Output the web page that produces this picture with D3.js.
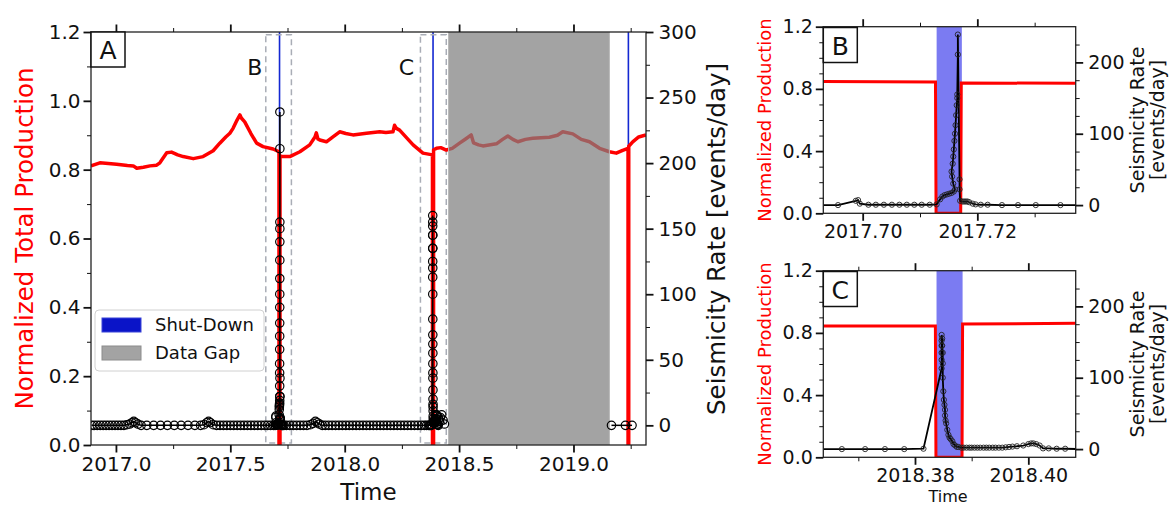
<!DOCTYPE html>
<html>
<head>
<meta charset="utf-8">
<script src="https://cdn.jsdelivr.net/npm/d3@7"></script>
<style>
  body { margin: 0; background: #fff; }
  svg { font-family: "DejaVu Sans", sans-serif; }
</style>
</head>
<body>
<div id="chart"></div>
<script>
/* CONSTANTS AND GLOBALS */
const width = 1173, height = 508;
const FONT = "DejaVu Sans";

/* DATA */
// normalized total production, [year, value]
const productionA = [
  [2016.891,0.811],[2016.930,0.820],[2017.003,0.816],[2017.050,0.812],[2017.076,0.811],[2017.091,0.804],
  [2017.120,0.807],[2017.149,0.811],[2017.178,0.813],[2017.192,0.820],[2017.222,0.849],[2017.243,0.851],
  [2017.270,0.843],[2017.294,0.838],[2017.338,0.832],[2017.381,0.838],[2017.425,0.855],[2017.454,0.877],
  [2017.480,0.895],[2017.498,0.906],[2017.512,0.920],[2017.530,0.945],[2017.542,0.959],[2017.548,0.950],
  [2017.563,0.939],[2017.590,0.905],[2017.615,0.877],[2017.643,0.867],[2017.687,0.860],[2017.7127,0.852],
  [2017.7128,0],[2017.7171,0],[2017.7172,0.840],[2017.731,0.838],[2017.760,0.838],[2017.804,0.852],
  [2017.847,0.872],[2017.870,0.895],[2017.876,0.907],[2017.883,0.889],[2017.891,0.886],[2017.920,0.881],
  [2017.950,0.896],[2017.978,0.910],[2018.005,0.905],[2018.036,0.901],[2018.095,0.906],[2018.153,0.910],
  [2018.180,0.908],[2018.211,0.910],[2018.218,0.929],[2018.226,0.920],[2018.240,0.915],[2018.270,0.893],
  [2018.299,0.872],[2018.342,0.848],[2018.3836,0.843],[2018.3837,0],[2018.3883,0],[2018.3884,0.858],
  [2018.401,0.862],[2018.420,0.864],[2018.444,0.857],[2018.470,0.862],[2018.502,0.877],[2018.530,0.890],
  [2018.553,0.901],[2018.563,0.878],[2018.585,0.872],[2018.604,0.869],[2018.663,0.875],[2018.690,0.888],
  [2018.713,0.898],[2018.735,0.888],[2018.757,0.881],[2018.790,0.888],[2018.822,0.891],[2018.895,0.894],
  [2018.930,0.900],[2018.953,0.910],[2018.997,0.904],[2019.034,0.888],[2019.070,0.881],[2019.114,0.862],
  [2019.157,0.852],[2019.187,0.848],[2019.215,0.856],[2019.2385,0.862],[2019.2386,0],[2019.2415,0],
  [2019.2416,0.868],[2019.259,0.881],[2019.285,0.895],[2019.317,0.901]
];
const productionB = [[2017.690,0.848],[2017.7127,0.845],[2017.7128,0],[2017.7171,0],[2017.7172,0.838],[2017.740,0.836]];
const productionC = [[2018.360,0.845],[2018.3836,0.845],[2018.3837,0],[2018.3883,0],[2018.3884,0.857],[2018.410,0.862]];

const shutdowns = [[2017.7129,2017.7173],[2018.3838,2018.3884],[2019.2385,2019.2415]];
const dataGap = [2018.454, 2019.157];
const zoomBoxes = [
  { label: "B", x0: 2017.655, x1: 2017.767, lx: 2017.607 },
  { label: "C", x0: 2018.331, x1: 2018.444, lx: 2018.270 }
];

// seismicity rate [events/day], [year, rate]
const seisBefore = [
  [2016.893,0],[2016.905,0],[2016.918,0],[2016.931,0],[2016.944,0],[2016.957,0],[2016.970,0],[2016.983,0],
  [2016.996,0],[2017.009,0],[2017.022,0],[2017.035,0],[2017.048,0.5],[2017.060,1],[2017.070,2],[2017.078,3],
  [2017.086,2],[2017.096,1],[2017.110,0],[2017.135,0],[2017.165,0],[2017.195,0],[2017.225,0],[2017.255,0],
  [2017.285,0],[2017.315,0],[2017.345,0],[2017.370,0],[2017.385,0.5],[2017.397,2],[2017.405,3],[2017.413,2],
  [2017.425,0.5],[2017.440,0],[2017.455,0],[2017.470,0],[2017.485,0],[2017.500,0],[2017.515,0],[2017.530,0],
  [2017.545,0],[2017.560,0],[2017.575,0],[2017.590,0],[2017.605,0],[2017.620,0],[2017.635,0],[2017.650,0],
  [2017.663,0],[2017.676,0],[2017.689,0]
];
const seisEventB = [
  [2017.6957,0],[2017.6988,6],[2017.6992,7],[2017.6995,2],[2017.7010,0.5],[2017.7023,0.5],[2017.7037,0.5],
  [2017.7051,0.5],[2017.7064,0.5],[2017.7077,0.5],[2017.7090,0.5],[2017.7103,0.5],[2017.7117,0.5],[2017.7129,1],
  [2017.7135,8],[2017.7139,12],[2017.7143,14],[2017.7147,15],[2017.7151,16],[2017.7155,17],[2017.7159,19],
  [2017.7161,22],[2017.7158,30],[2017.7156,40],[2017.7155,47],[2017.7157,58],[2017.7158,68],[2017.7159,78],
  [2017.7160,90],[2017.7161,100],[2017.7162,112],[2017.7163,126],[2017.7164,140],[2017.7165,150],[2017.7165,155],
  [2017.7166,211],[2017.7166,239],[2017.7169,36],[2017.7169,22],[2017.7170,6],[2017.7174,5],[2017.7177,5],
  [2017.7180,5],[2017.7183,5],[2017.7186,4],[2017.7192,2],[2017.7197,1],[2017.7206,0.5],[2017.7218,0.5],
  [2017.7243,0],[2017.7271,0],[2017.7302,0],[2017.7345,0]
];
const seisBetween = [
  [2017.745,0],[2017.760,0],[2017.775,0],[2017.790,0],[2017.805,0],[2017.820,0],[2017.835,0],[2017.850,0.5],
  [2017.862,1.5],[2017.872,3],[2017.880,2],[2017.890,1],[2017.902,0],[2017.915,0],[2017.930,0],[2017.945,0],
  [2017.960,0],[2017.975,0],[2017.990,0],[2018.005,0],[2018.020,0],[2018.035,0],[2018.050,0],[2018.065,0],
  [2018.080,0],[2018.095,0],[2018.110,0],[2018.125,0],[2018.140,0],[2018.155,0],[2018.170,0],[2018.185,0],
  [2018.200,0],[2018.215,0],[2018.230,0],[2018.245,0],[2018.260,0],[2018.275,0],[2018.290,0],[2018.305,0],
  [2018.320,0],[2018.335,0],[2018.348,0],[2018.358,0]
];
const seisEventC = [
  [2018.3671,0],[2018.3712,0],[2018.3747,0],[2018.3781,0],[2018.3815,0.5],
  [2018.3847,113],[2018.3847,125],[2018.3847,135],[2018.3847,145],[2018.3847,152],[2018.3847,160],
  [2018.3848,155],[2018.3848,145],[2018.3849,135],[2018.3849,120],[2018.3849,100],[2018.3850,81],
  [2018.3851,69],[2018.3852,62],[2018.3853,55],[2018.3853,47],[2018.3854,40],[2018.3855,36],[2018.3857,27],
  [2018.3859,20],[2018.3861,16],[2018.3863,14],[2018.3866,11],[2018.3868,7],[2018.3871,5],[2018.3874,3],
  [2018.3877,3],[2018.3882,2],[2018.3886,2],[2018.3891,2],[2018.3896,2],[2018.3900,2],[2018.3905,2],
  [2018.3910,2],[2018.3915,2],[2018.3921,2],[2018.3926,2],[2018.3931,2],[2018.3937,2],[2018.3942,2],
  [2018.3948,2],[2018.3954,2],[2018.3960,2.5],[2018.3966,3],[2018.3972,3.5],[2018.3980,4],[2018.3991,5],
  [2018.4000,7],[2018.4005,8],[2018.4009,8],[2018.4014,7],[2018.4020,5],[2018.4026,1],[2018.4036,1],
  [2018.4050,0.5],[2018.4065,0.5],[2018.4090,0]
];
const seisAfter = [[2018.412,3],[2018.418,6],[2018.424,8],[2018.430,4],[2018.436,1]];
const seisPostGap = [[2019.166,0],[2019.227,0],[2019.256,0]];

// ticks
const xMajorA = [2017.0, 2017.5, 2018.0, 2018.5, 2019.0];
const xMinorA = [2017.25, 2017.75, 2018.25, 2018.75, 2019.25];
const prodMajorA = [0, 0.2, 0.4, 0.6, 0.8, 1.0, 1.2];
const prodMinorA = [0.1, 0.3, 0.5, 0.7, 0.9, 1.1];
const rateMajorA = [0, 50, 100, 150, 200, 250, 300];
const rateMinorA = [25, 75, 125, 175, 225, 275];
const xMajorB = [2017.70, 2017.72], xMinorB = [2017.71, 2017.73];
const xMajorC = [2018.38, 2018.40], xMinorC = [2018.37, 2018.39];
const prodMajorZ = [0, 0.4, 0.8, 1.2];
const prodMinorZ = [0.1, 0.2, 0.3, 0.5, 0.6, 0.7, 0.9, 1.0, 1.1];
const rateMajorZ = [0, 100, 200];
const rateMinorZ = [25, 50, 75, 125, 150, 175, 225];

const seisMain = [].concat(seisBefore, seisEventB, seisBetween, seisEventC, seisAfter);

/* SVG */
const svg = d3.select("#chart").append("svg")
  .attr("width", width).attr("height", height)
  .attr("font-family", FONT);

// draws one axis side: major ticks (with labels) + minor ticks
function tickAxis(g, axisFn, scale, transform, major, minor, fmt, fs, pad) {
  const a = g.append("g").attr("transform", transform)
    .call(axisFn(scale).tickValues(major).tickSize(7.5).tickPadding(pad || 4)
      .tickFormat(fmt || (() => "")));
  a.attr("font-family", FONT).attr("font-size", fs);
  a.select(".domain").remove();
  a.selectAll(".tick line").attr("stroke", "#111").attr("stroke-width", 1.8);
  a.selectAll(".tick text").attr("fill", "#111");
  const m = g.append("g").attr("transform", transform)
    .call(axisFn(scale).tickValues(minor).tickSize(4).tickFormat(() => ""));
  m.select(".domain").remove();
  m.selectAll(".tick line").attr("stroke", "#111").attr("stroke-width", 1);
}

function makeClip(id, x, y) {
  svg.append("clipPath").attr("id", id).append("rect")
    .attr("x", x.range()[0]).attr("y", y.range()[1])
    .attr("width", x.range()[1] - x.range()[0])
    .attr("height", y.range()[0] - y.range()[1]);
}

function frame(g, x, y) {
  g.append("rect")
    .attr("x", x.range()[0]).attr("y", y.range()[1])
    .attr("width", x.range()[1] - x.range()[0])
    .attr("height", y.range()[0] - y.range()[1])
    .attr("fill", "none").attr("stroke", "#222").attr("stroke-width", 1.3);
}

function letterBox(g, x0, y0, txt) {
  g.append("rect").attr("x", x0).attr("y", y0).attr("width", 34).attr("height", 35)
    .attr("fill", "#fff").attr("stroke", "#111").attr("stroke-width", 1.5);
  g.append("text").attr("x", x0 + 17).attr("y", y0 + 27).attr("text-anchor", "middle")
    .attr("font-size", 25).attr("fill", "#111").text(txt);
}

/* PANEL A */
const xA = d3.scaleLinear().domain([2016.891, 2019.317]).range([91, 646]);
const yA = d3.scaleLinear().domain([0, 1.2]).range([445, 32]);
const rA = d3.scaleLinear().domain([-15, 300]).range([445, 32]);
makeClip("clipA", xA, yA);
const gA = svg.append("g");
const plotA = gA.append("g").attr("clip-path", "url(#clipA)");

// shut-down spans (very thin here)
plotA.selectAll("rect.shut").data(shutdowns).join("rect").attr("class", "shut")
  .attr("x", d => (xA(d[0]) + xA(d[1])) / 2 - 0.8)
  .attr("width", 1.6)
  .attr("y", yA(1.2)).attr("height", yA(0) - yA(1.2))
  .attr("fill", "#1428d2");

// dashed boxes for zoom windows
plotA.selectAll("rect.zoombox").data(zoomBoxes).join("rect").attr("class", "zoombox")
  .attr("x", d => xA(d.x0)).attr("width", d => xA(d.x1) - xA(d.x0))
  .attr("y", yA(1.192)).attr("height", yA(0.006) - yA(1.192))
  .attr("fill", "none").attr("stroke", "#a9adb6").attr("stroke-width", 1.5)
  .attr("stroke-dasharray", "6,4");

const lineA = d3.line().x(d => xA(d[0])).y(d => yA(d[1]));
plotA.append("path").datum(productionA).attr("d", lineA)
  .attr("fill", "none").attr("stroke", "#ff0000").attr("stroke-width", 3.5)
  .attr("stroke-linejoin", "round");

// data gap over the line
plotA.append("rect")
  .attr("x", xA(dataGap[0])).attr("width", xA(dataGap[1]) - xA(dataGap[0]))
  .attr("y", yA(1.2)).attr("height", yA(0) - yA(1.2))
  .attr("fill", "#808080").attr("fill-opacity", 0.72)
  .attr("stroke", "#b8b8b8").attr("stroke-width", 1);

const seisLineA = d3.line().x(d => xA(d[0])).y(d => rA(d[1]));
[seisMain, seisPostGap].forEach(seg => {
  plotA.append("path").datum(seg).attr("d", seisLineA)
    .attr("fill", "none").attr("stroke", "#000").attr("stroke-width", 1.5);
});
plotA.selectAll("circle").data(seisMain.concat(seisPostGap)).join("circle")
  .attr("cx", d => xA(d[0])).attr("cy", d => rA(d[1])).attr("r", 4.2)
  .attr("fill", "none").attr("stroke", "#000").attr("stroke-width", 1.2);

// zoom labels
gA.selectAll("text.zl").data(zoomBoxes).join("text").attr("class", "zl")
  .attr("x", d => xA(d.lx)).attr("y", yA(1.098) + 8).attr("text-anchor", "middle")
  .attr("font-size", 22).attr("fill", "#111").text(d => d.label);

frame(gA, xA, yA);
tickAxis(gA, d3.axisBottom, xA, `translate(0,${yA(0)})`, xMajorA, xMinorA, d3.format(".1f"), 20, 4);
tickAxis(gA, d3.axisTop, xA, `translate(0,${yA(1.2)})`, xMajorA, xMinorA, null, 20);
tickAxis(gA, d3.axisLeft, yA, `translate(${xA.range()[0]},0)`, prodMajorA, prodMinorA, d3.format(".1f"), 20, 3);
tickAxis(gA, d3.axisRight, rA, `translate(${xA.range()[1]},0)`, rateMajorA, rateMinorA, d3.format("d"), 20, 5);

gA.append("text").attr("transform", `translate(33,238.5) rotate(-90)`)
  .attr("text-anchor", "middle").attr("font-size", 24.5).attr("fill", "#ff0000")
  .text("Normalized Total Production");
gA.append("text").attr("transform", `translate(725,239) rotate(-90)`)
  .attr("text-anchor", "middle").attr("font-size", 24.5).attr("fill", "#111")
  .text("Seismicity Rate [events/day]");
gA.append("text").attr("x", (xA.range()[0] + xA.range()[1]) / 2).attr("y", 500)
  .attr("text-anchor", "middle").attr("font-size", 23).attr("fill", "#111").text("Time");

letterBox(gA, 91, 32, "A");

// legend
const leg = gA.append("g");
leg.append("rect").attr("x", 95).attr("y", 310).attr("width", 169).attr("height", 61)
  .attr("rx", 4).attr("fill", "#fff").attr("fill-opacity", 0.85)
  .attr("stroke", "#d0d0d0").attr("stroke-width", 1);
const legItems = [
  { label: "Shut-Down", fill: "#0a14c8", stroke: "#3a44d8" },
  { label: "Data Gap", fill: "#a3a3a3", stroke: "#8c8c8c" }
];
legItems.forEach((d, i) => {
  leg.append("rect").attr("x", 102).attr("y", 318 + i * 28).attr("width", 39).attr("height", 14)
    .attr("fill", d.fill).attr("stroke", d.stroke).attr("stroke-width", 1);
  leg.append("text").attr("x", 155).attr("y", 331 + i * 28).attr("font-size", 18)
    .attr("fill", "#111").text(d.label);
});

/* ZOOM PANELS */
function zoomPanel(id, domainX, top, bottom, prod, span, xMajor, xMinor, letter, withTime) {
  const x = d3.scaleLinear().domain(domainX).range([823.3, 1075.7]);
  const y = d3.scaleLinear().domain([0, 1.2]).range([bottom, top]);
  const r = d3.scaleLinear().domain([-11.5, 250]).range([bottom, top]);
  makeClip(id, x, y);
  const g = svg.append("g");
  const p = g.append("g").attr("clip-path", `url(#${id})`);

  p.append("rect").attr("x", x(span[0])).attr("width", x(span[1]) - x(span[0]))
    .attr("y", top).attr("height", bottom - top)
    .attr("fill", "#7b7bf2");

  p.append("path").datum(prod).attr("d", d3.line().x(d => x(d[0])).y(d => y(d[1])))
    .attr("fill", "none").attr("stroke", "#ff0000").attr("stroke-width", 3);

  const inView = seisMain.filter(d => d[0] >= domainX[0] && d[0] <= domainX[1]);
  p.append("path").datum(seisMain).attr("d", d3.line().x(d => x(d[0])).y(d => r(d[1])))
    .attr("fill", "none").attr("stroke", "#000").attr("stroke-width", 1.8);
  p.selectAll("circle").data(inView).join("circle")
    .attr("cx", d => x(d[0])).attr("cy", d => r(d[1])).attr("r", 2.6)
    .attr("fill", "none").attr("stroke", "#222").attr("stroke-width", 0.9);

  frame(g, x, y);
  tickAxis(g, d3.axisBottom, x, `translate(0,${bottom})`, xMajor, xMinor, d3.format(".2f"), 19, 4);
  tickAxis(g, d3.axisTop, x, `translate(0,${top})`, xMajor, xMinor, null, 19);
  tickAxis(g, d3.axisLeft, y, `translate(823.3,0)`, prodMajorZ, prodMinorZ, d3.format(".1f"), 19, 3);
  tickAxis(g, d3.axisRight, r, `translate(1075.7,0)`, rateMajorZ, rateMinorZ, d3.format("d"), 19, 5);

  const mid = (top + bottom) / 2;
  g.append("text").attr("transform", `translate(771,${mid}) rotate(-90)`)
    .attr("text-anchor", "middle").attr("font-size", 18).attr("fill", "#ff0000")
    .text("Normalized Production");
  g.append("text").attr("transform", `translate(1144,${mid}) rotate(-90)`)
    .attr("text-anchor", "middle").attr("font-size", 19).attr("fill", "#111")
    .text("Seismicity Rate");
  g.append("text").attr("transform", `translate(1164,${mid}) rotate(-90)`)
    .attr("text-anchor", "middle").attr("font-size", 19).attr("fill", "#111")
    .text("[events/day]");
  if (withTime) {
    g.append("text").attr("x", 948).attr("y", 502).attr("text-anchor", "middle")
      .attr("font-size", 16).attr("fill", "#111").text("Time");
  }
  letterBox(g, 823.3, top + 0.8, letter);
}

zoomPanel("clipB", [2017.69313, 2017.73716], 26.7, 213.3, productionB, shutdowns[0], xMajorB, xMinorB, "B", false);
zoomPanel("clipC", [2018.36382, 2018.40836], 270.7, 457.3, productionC, shutdowns[1], xMajorC, xMinorC, "C", true);
</script>
</body>
</html>
